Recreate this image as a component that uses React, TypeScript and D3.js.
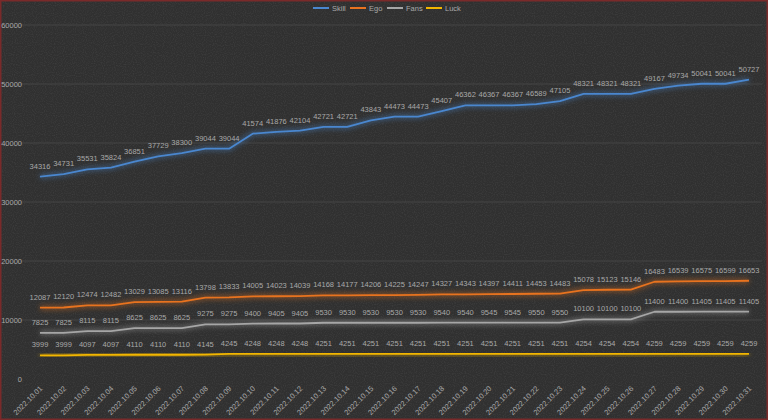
import React from 'react';
import * as d3 from 'd3';

// chart size
const svgWidth = 768;
const svgHeight = 420;
const plotTop = 25;
const plotBottom = 379;
const firstX = 40;
const lastX = 749;

const days = [
  '2022.10.01', '2022.10.02', '2022.10.03', '2022.10.04', '2022.10.05', '2022.10.06', '2022.10.07',
  '2022.10.08', '2022.10.09', '2022.10.10', '2022.10.11', '2022.10.12', '2022.10.13', '2022.10.14',
  '2022.10.15', '2022.10.16', '2022.10.17', '2022.10.18', '2022.10.19', '2022.10.20', '2022.10.21',
  '2022.10.22', '2022.10.23', '2022.10.24', '2022.10.25', '2022.10.26', '2022.10.27', '2022.10.28',
  '2022.10.29', '2022.10.30', '2022.10.31',
];

const skill = [
  34316, 34731, 35531, 35824, 36851, 37729, 38300, 39044, 39044, 41574, 41876, 42104, 42721, 42721,
  43843, 44473, 44473, 45407, 46362, 46367, 46367, 46589, 47105, 48321, 48321, 48321, 49167, 49734,
  50041, 50041, 50727,
];
const ego = [
  12087, 12120, 12474, 12482, 13029, 13085, 13116, 13798, 13833, 14005, 14023, 14039, 14168, 14177,
  14206, 14225, 14247, 14327, 14343, 14397, 14411, 14453, 14483, 15078, 15123, 15146, 16483, 16539,
  16575, 16599, 16653,
];
const fans = [
  7825, 7825, 8115, 8115, 8625, 8625, 8625, 9275, 9275, 9400, 9405, 9405, 9530, 9530, 9530, 9530,
  9530, 9540, 9540, 9545, 9545, 9550, 9550, 10100, 10100, 10100, 11400, 11400, 11405, 11405, 11405,
];
const luck = [
  3999, 3999, 4097, 4097, 4110, 4110, 4110, 4145, 4245, 4248, 4248, 4248, 4251, 4251, 4251, 4251,
  4251, 4251, 4251, 4251, 4251, 4251, 4251, 4254, 4254, 4254, 4259, 4259, 4259, 4259, 4259,
];

const yTicks = [0, 10000, 20000, 30000, 40000, 50000, 60000];

const seriesNames = ['Skill', 'Ego', 'Fans', 'Luck'];
const seriesValues = [skill, ego, fans, luck];
const seriesColors = ['#4a87cf', '#e8731f', '#a6a6a6', '#f2b600'];

const fontFamily = '"Liberation Sans", Arial, sans-serif';
const textColor = '#a9a9a9';

const xScale = d3.scalePoint<string>().domain(days).range([firstX, lastX]);
const yScale = d3.scaleLinear().domain([0, 60000]).range([plotBottom, plotTop]);

const lineGen = d3.line<number>()
  .x((d, i) => xScale(days[i]) as number)
  .y(d => yScale(d));

const legendX = [313, 350, 387, 426];

export default function App() {
  return (
    <svg width={svgWidth} height={svgHeight}
      style={{ position: 'absolute', left: 0, top: 0, display: 'block' }}>
      <defs>
        <filter id="glow" x="-10%" y="-50%" width="120%" height="200%">
          <feGaussianBlur stdDeviation="2.5" />
        </filter>
        <filter id="noise" x="0" y="0" width="100%" height="100%">
          <feTurbulence type="fractalNoise" baseFrequency="0.9" numOctaves="1" seed="3" result="n" />
          <feColorMatrix in="n" type="matrix"
            values="0 0 0 0 1  0 0 0 0 1  0 0 0 0 1  0 0 0 -2.2 1.25" />
          <feComposite operator="in" in2="SourceGraphic" />
        </filter>
      </defs>
      <rect x={0} y={0} width={svgWidth} height={svgHeight} fill="#303030" />
      <rect x={0} y={0} width={svgWidth} height={svgHeight} fill="#fff" opacity={0.07} filter="url(#noise)" />
      <rect x={0.75} y={0.75} width={svgWidth - 1.5} height={svgHeight - 1.5}
        fill="none" stroke="#7a2a2a" strokeWidth={1.5} />

      {/* gridlines + y labels */}
      {yTicks.map(t => (
        <g key={t}>
          {t > 0 && (
            <line x1={20} x2={762} y1={yScale(t)} y2={yScale(t)} stroke="#444" strokeWidth={1} />
          )}
          <text x={22} y={yScale(t) + 3} textAnchor="end" fontSize={7.5}
            fontFamily={fontFamily} fill={textColor}>{t}</text>
        </g>
      ))}

      {/* x labels */}
      {days.map(d => (
        <text key={d} fontSize={7.5} fontFamily={fontFamily} fill={textColor} textAnchor="end"
          transform={`translate(${(xScale(d) as number) + 3},${plotBottom + 10}) rotate(-45)`}>{d}</text>
      ))}

      {/* lines with glow */}
      {seriesValues.map((vals, s) => (
        <g key={seriesNames[s]}>
          <path d={lineGen(vals) || ''} fill="none" stroke={seriesColors[s]} strokeWidth={5}
            opacity={0.4} filter="url(#glow)" />
          <path d={lineGen(vals) || ''} fill="none" stroke={seriesColors[s]} strokeWidth={1.8}
            strokeLinejoin="round" />
        </g>
      ))}

      {/* data labels */}
      {seriesValues.map((vals, s) => (
        <g key={'lab' + s}>
          {vals.map((v, i) => (
            <text key={i} x={xScale(days[i]) as number} y={yScale(v) - 8} textAnchor="middle"
              fontSize={7.5} fontFamily={fontFamily} fill={textColor}>{v}</text>
          ))}
        </g>
      ))}

      {/* legend */}
      {seriesNames.map((name, s) => (
        <g key={name}>
          <line x1={legendX[s]} x2={legendX[s] + 16} y1={8} y2={8} stroke={seriesColors[s]} strokeWidth={2} />
          <text x={legendX[s] + 19} y={10.5} fontSize={7.5} fontFamily={fontFamily} fill={textColor}>{name}</text>
        </g>
      ))}
    </svg>
  );
}
